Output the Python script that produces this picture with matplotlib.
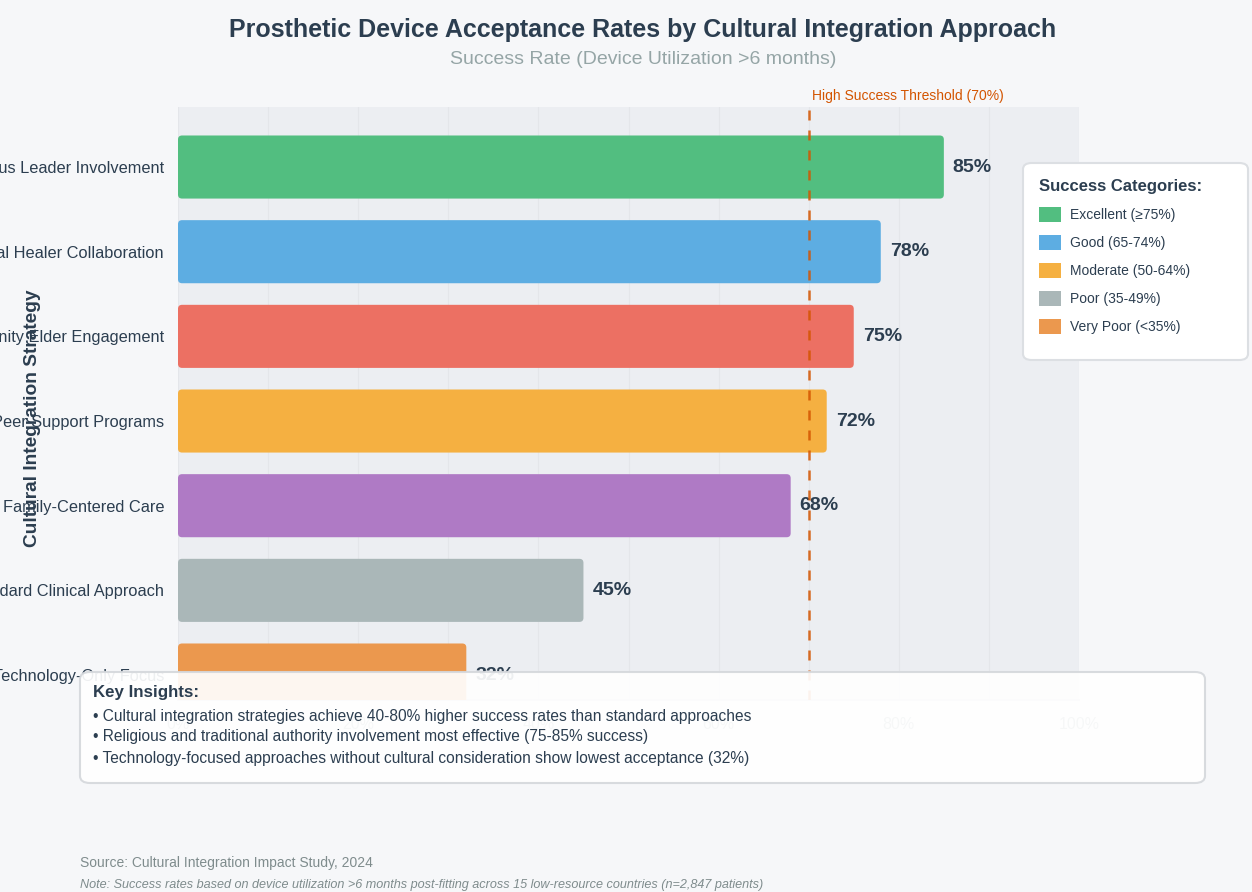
import matplotlib.pyplot as plt
from matplotlib.patches import Patch, FancyBboxPatch
import matplotlib.transforms as mtransforms

plt.rcParams['font.family'] = ['Liberation Sans', 'DejaVu Sans']

strategies = ["Religious Leader Involvement", "Traditional Healer Collaboration",
              "Community Elder Engagement", "Peer Support Programs",
              "Family-Centered Care", "Standard Clinical Approach",
              "Technology-Only Focus"]
rates = [85, 78, 75, 72, 68, 45, 32]
bar_colors = ["#52be80", "#5dade2", "#ec7063", "#f5b041", "#af7ac5", "#aab7b8", "#eb984e"]

categories = ["Excellent (\u226575%)", "Good (65-74%)", "Moderate (50-64%)",
              "Poor (35-49%)", "Very Poor (<35%)"]
category_colors = ["#52be80", "#5dade2", "#f5b041", "#aab7b8", "#eb984e"]

threshold = 70
insights = [
    "\u2022 Cultural integration strategies achieve 40-80% higher success rates than standard approaches",
    "\u2022 Religious and traditional authority involvement most effective (75-85% success)",
    "\u2022 Technology-focused approaches without cultural consideration show lowest acceptance (32%)",
]

W, H = 1252, 892
fig = plt.figure(figsize=(W / 100, H / 100), dpi=100)
fig.patch.set_facecolor("#f6f7f9")

def fx(px):
    return px / W

def fy(py):
    return 1 - py / H

ax = fig.add_axes([fx(178), fy(700), fx(1079) - fx(178), fy(107) - fy(700)])
ax.set_facecolor("#eceef2")

y = list(range(len(strategies)))
bars = ax.barh(y, rates, height=0.745, color=bar_colors, zorder=3)
# swap the plain rectangles for slightly rounded ones
for b in bars:
    rb = FancyBboxPatch((b.get_x(), b.get_y()), b.get_width(), b.get_height(),
                        boxstyle="round,pad=0,rounding_size=0.45", mutation_aspect=0.106,
                        facecolor=b.get_facecolor(), edgecolor="none", zorder=3)
    ax.add_patch(rb)
    b.set_visible(False)

for yi, r in zip(y, rates):
    ax.text(r + 1.0, yi, "%d%%" % r, va="center", ha="left", fontsize=14,
            fontweight="bold", color="#2c3e50", zorder=4)

ax.set_xlim(0, 100)
ax.set_ylim(6.295, -0.709)
ax.set_yticks(y)
ax.set_yticklabels(strategies, fontsize=11.8, color="#2c3e50")
ax.set_xticks([0, 20, 40, 60, 80, 100])
ax.set_xticklabels(["0%", "20%", "40%", "60%", "80%", "100%"], fontsize=11.5, color="#95a5a6")
ax.tick_params(axis="y", length=0, pad=10)
ax.tick_params(axis="x", length=0, pad=12)
ax.set_xticks(range(10, 100, 10), minor=True)
ax.tick_params(axis="x", which="minor", length=0)
ax.grid(axis="x", which="both", color="#e4e6ea", linewidth=0.8, zorder=0)
for s in ["top", "right", "left"]:
    ax.spines[s].set_visible(False)
ax.spines["bottom"].set_color("#d5d8dc")
ax.spines["bottom"].set_linewidth(1.5)

fig.text(fx(33), fy(418), "Cultural Integration Strategy", rotation=90, ha="center",
         va="center", fontsize=13.8, fontweight="bold", color="#2c3e50")

ax.axvline(threshold, ymin=0, ymax=1.0, color="#d35400", linestyle=(0, (4, 4)),
           linewidth=1.8, alpha=0.85, zorder=5)
trans = mtransforms.blended_transform_factory(ax.transData, ax.transAxes)
ax.text(threshold + 0.4, 1.0185, "High Success Threshold (%d%%)" % threshold, transform=trans,
        ha="left", va="center", fontsize=10, color="#d35400")

fig.text(fx(643), fy(30), "Prosthetic Device Acceptance Rates by Cultural Integration Approach",
         ha="center", va="center", fontsize=18, fontweight="bold", color="#2c3e50")
fig.text(fx(643), fy(60), "Success Rate (Device Utilization >6 months)", ha="center",
         va="center", fontsize=14, color="#95a5a6")

# legend: white rounded card drawn separately, entries frameless on top
card = FancyBboxPatch((fx(1023), fy(360)), fx(1248) - fx(1023), fy(163) - fy(360),
                      boxstyle="round,pad=0,rounding_size=0.007", transform=fig.transFigure,
                      facecolor="white", edgecolor="#dcdfe3", linewidth=1.5, zorder=8)
fig.patches.append(card)
handles = [Patch(facecolor=c, edgecolor="none") for c in category_colors]
leg = fig.legend(handles, categories, loc="upper left", bbox_to_anchor=(fx(1039), fy(179)),
                 borderaxespad=0, borderpad=0, title="Success Categories:", fontsize=10,
                 frameon=False, handlelength=1.55, handleheight=1.3, labelspacing=0.92,
                 handletextpad=0.65, alignment="left")
leg.set_zorder(9)
leg.get_title().set_fontweight("bold")
leg.get_title().set_fontsize(12)
leg.get_title().set_color("#2c3e50")
for t in leg.get_texts():
    t.set_color("#2c3e50")

box = FancyBboxPatch((fx(80), fy(783)), fx(1205) - fx(80), fy(672) - fy(783),
                     boxstyle="round,pad=0,rounding_size=0.008", transform=fig.transFigure,
                     facecolor="white", edgecolor="#d5d8dc", linewidth=1.5, alpha=0.92,
                     zorder=10)
fig.patches.append(box)
fig.text(fx(93), fy(693), "Key Insights:", ha="left", va="center", fontsize=12.2,
         fontweight="bold", color="#2c3e50", zorder=11)
for i, line in enumerate(insights):
    fig.text(fx(93), fy(716 + 21 * i), line, ha="left", va="center", fontsize=11.2,
             color="#2c3e50", zorder=11)

fig.text(fx(80), fy(863), "Source: Cultural Integration Impact Study, 2024", ha="left",
         va="center", fontsize=10, color="#7f8c8d")
fig.text(fx(80), fy(885), "Note: Success rates based on device utilization >6 months post-fitting "
         "across 15 low-resource countries (n=2,847 patients)", ha="left", va="center",
         fontsize=9.1, style="italic", color="#7f8c8d")

fig.savefig("out.png", dpi=100, facecolor=fig.get_facecolor())
